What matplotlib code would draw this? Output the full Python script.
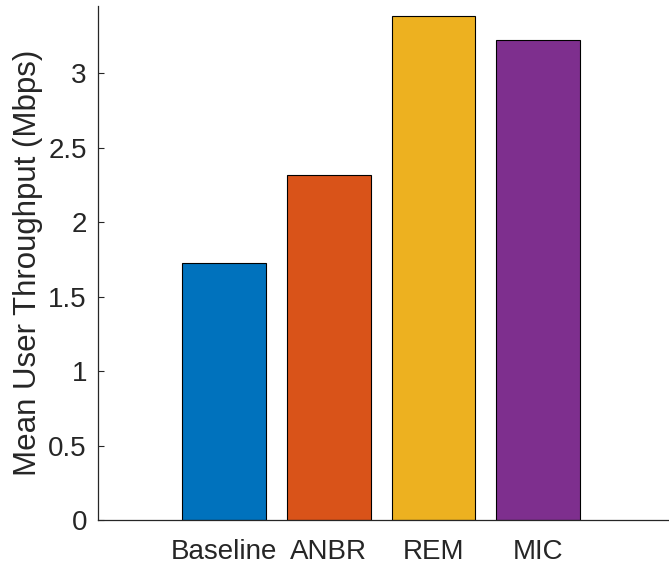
import matplotlib.pyplot as plt

categories = ["Baseline", "ANBR", "REM", "MIC"]
throughput = [1.723, 2.315, 3.385, 3.22]
colors = ["#0072BD", "#D95319", "#EDB120", "#7E2F8E"]

plt.rcParams["font.family"] = ["Liberation Sans", "DejaVu Sans"]
txt = "#262626"

fig = plt.figure(figsize=(6.69, 5.65), dpi=100)
ax = fig.add_axes([98 / 669, 1 - 520 / 565, 1 - 98 / 669, 514 / 565])

x = list(range(1, len(categories) + 1))
ax.bar(x, throughput, width=0.8, color=colors, edgecolor="black", linewidth=0.8)

ax.set_xlim(-0.202, 5.247)
ax.set_ylim(0, 3.45)
ax.set_xticks(x)
ax.set_xticklabels(categories)
ax.set_yticks([0, 0.5, 1, 1.5, 2, 2.5, 3])
ax.set_yticklabels(["0", "0.5", "1", "1.5", "2", "2.5", "3"])

ax.tick_params(axis="x", length=0, labelsize=20, colors=txt, pad=14)
ax.tick_params(axis="y", direction="in", length=4, width=0.8, labelsize=20, colors=txt, pad=8)
ax.set_ylabel("Mean User Throughput (Mbps)", fontsize=22.5, color=txt, labelpad=4)

for s in ["top", "right"]:
    ax.spines[s].set_visible(False)
for s in ["left", "bottom"]:
    ax.spines[s].set_color(txt)
    ax.spines[s].set_linewidth(0.9)

fig.savefig("out.png", dpi=100)
